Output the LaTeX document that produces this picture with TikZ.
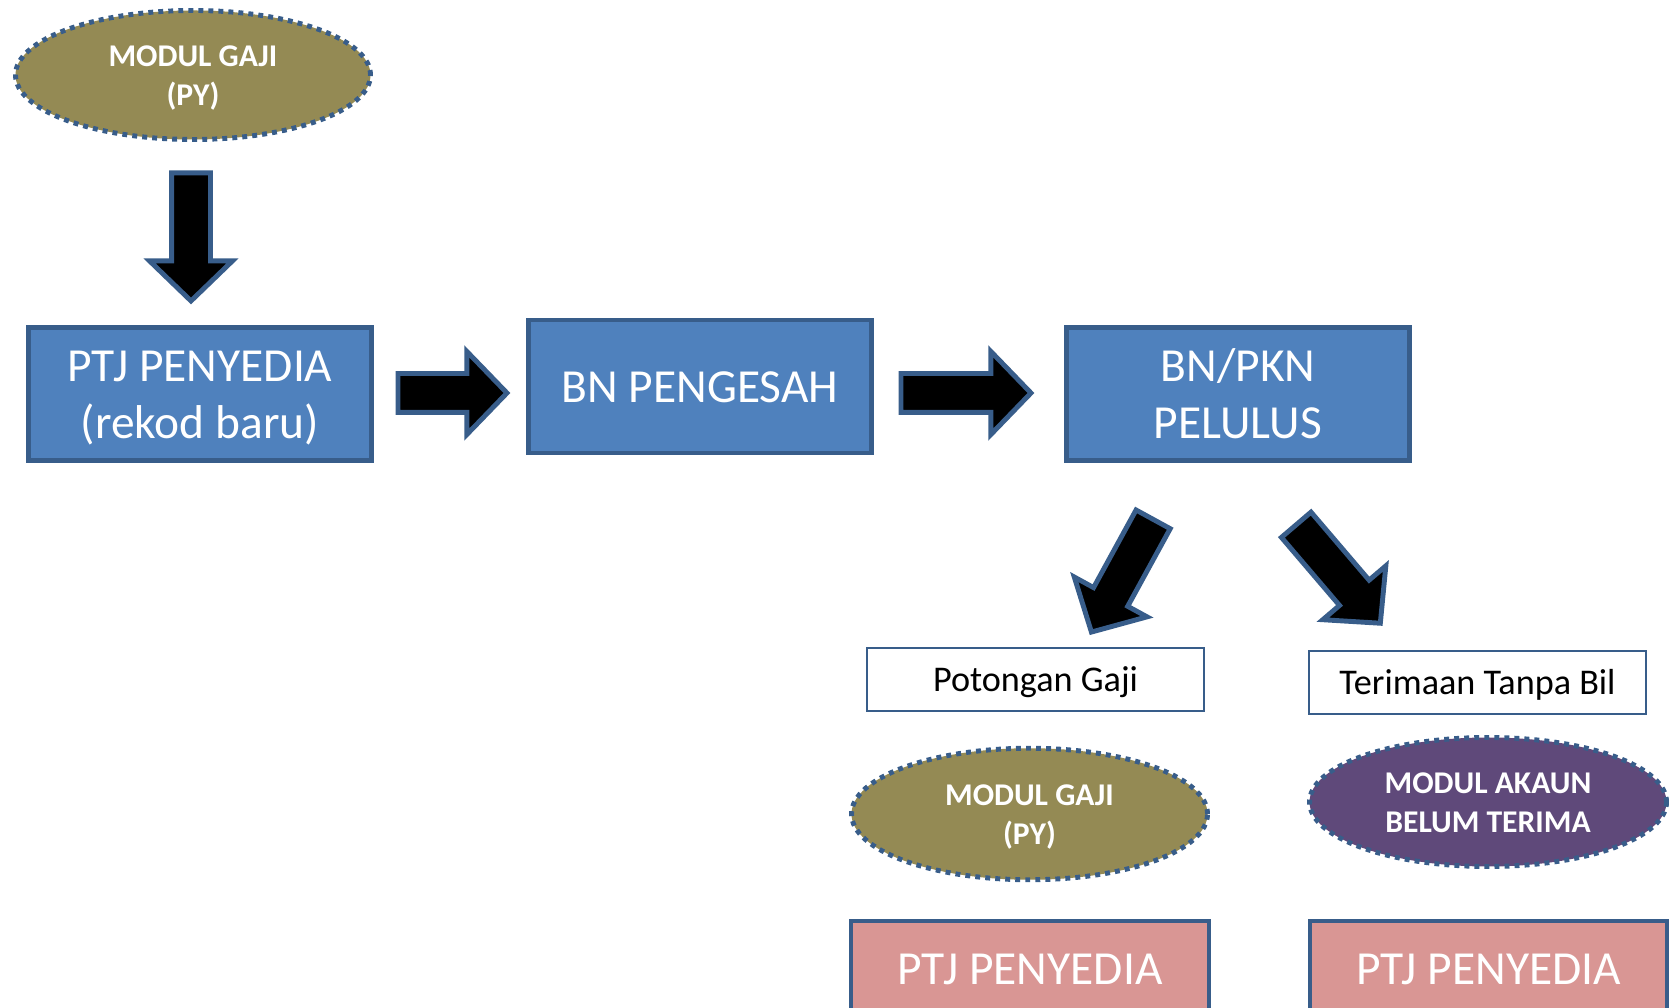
\documentclass[tikz,border=0pt]{standalone}
\usepackage{fontspec}
\setmainfont{Carlito}
\usetikzlibrary{shapes.geometric,shapes.arrows}
\definecolor{boxblue}{HTML}{4F81BD}
\definecolor{lineblue}{HTML}{385D8A}
\definecolor{gajiolive}{HTML}{948A54}
\definecolor{akaunpurple}{HTML}{5F497A}
\definecolor{ptjpink}{HTML}{D99694}
\begin{document}
\begin{tikzpicture}[
    modul/.style={ellipse,draw=lineblue,line width=1.4pt,dash pattern=on 1.4pt off 1.45pt,
      inner sep=0,minimum width=3.55cm,minimum height=1.29cm,text=white,align=center,
      font=\bfseries\fontsize{9}{11}\selectfont,text height=19.6pt,text depth=2.3pt},
    kotak/.style={rectangle,draw=lineblue,line width=1.2pt,inner sep=0,
      minimum width=3.43cm,minimum height=1.33cm,text=white,align=center,
      font=\fontsize{13.5}{16.2}\selectfont,text height=12.7pt,text depth=3.4pt},
    duabaris/.style={text height=28.9pt},
    catatan/.style={rectangle,draw=lineblue,line width=0.6pt,inner sep=0,
      minimum width=3.37cm,minimum height=0.63cm,font=\fontsize{10.3}{12}\selectfont,
      text height=9.4pt,text depth=2.6pt},
    panah/.style={single arrow,fill=black,draw=lineblue,line width=1.4pt,anchor=tail,
      inner xsep=0,inner ysep=0.17cm,single arrow head extend=0.22cm,single arrow tip angle=92}
  ]
  \useasboundingbox (0,0) rectangle (16.75,10.08);
  \clip (0,0) rectangle (16.75,10.08);
  \draw
    (1.93,9.33) node[modul,fill=gajiolive] (gaji){MODUL GAJI\\(PY)}
    (2.00,6.14) node[kotak,duabaris,fill=boxblue] (ptj){PTJ PENYEDIA\\(rekod baru)}
    (7.00,6.215) node[kotak,fill=boxblue] (pengesah){BN PENGESAH}
    (12.38,6.14) node[kotak,duabaris,fill=boxblue] (pelulus){BN/PKN\\PELULUS}
    (10.355,3.285) node[catatan] (potongan){Potongan Gaji}
    (14.775,3.255) node[catatan] (terimaan){Terimaan Tanpa Bil}
    (10.295,1.94) node[modul,fill=gajiolive,minimum width=3.56cm,minimum height=1.315cm] (gajiB){MODUL GAJI\\(PY)}
    (14.88,2.06) node[modul,fill=akaunpurple,minimum width=3.57cm] (akaun){MODUL AKAUN\\BELUM TERIMA}
    (10.30,0.40) node[kotak,fill=ptjpink,minimum width=3.58cm,minimum height=0.94cm] (ptjB){PTJ PENYEDIA}
    (14.885,0.40) node[kotak,fill=ptjpink,minimum width=3.57cm,minimum height=0.94cm] (ptjC){PTJ PENYEDIA};
  \begin{scope}[every node/.style={panah}]
    \draw (1.91,8.375) node[rotate=270,minimum height=1.28cm] (p1){};
    \draw (3.955,6.15) node[minimum height=1.09cm] (p2){};
    \draw (8.985,6.15) node[minimum height=1.30cm] (p3){};
    \draw (11.543,4.908) node[rotate=241.3,minimum height=1.285cm] (p4){};
    \draw (12.946,4.851) node[rotate=310.5,minimum height=1.295cm] (p5){};
  \end{scope}
\end{tikzpicture}
\end{document}
